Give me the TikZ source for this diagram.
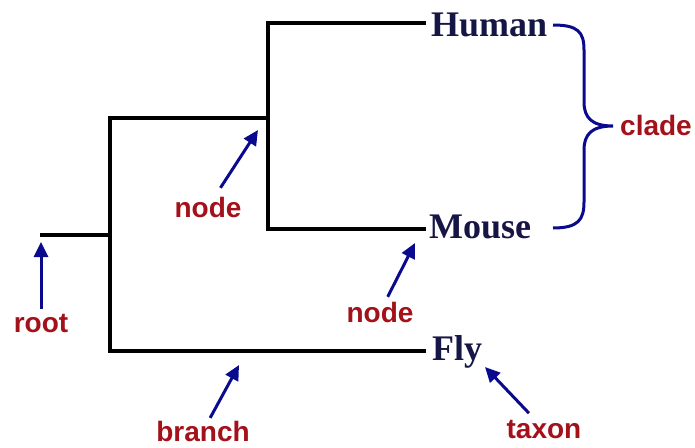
\documentclass[tikz,border=0pt]{standalone}
\usepackage{fontspec}
\setmainfont{Liberation Serif}
\setsansfont{Liberation Sans}
\usetikzlibrary{arrows.meta}

\definecolor{taxonink}{HTML}{161646}
\definecolor{labelred}{HTML}{A3111B}
\definecolor{pointblue}{HTML}{0A0A8E}

\tikzset{
    tree/.style={line width=4pt, black, line join=miter},
    taxon/.style={anchor=base west, inner sep=1pt, text=taxonink,
        font=\fontsize{36}{40}\selectfont\bfseries},
    term/.style={anchor=base, inner sep=2pt, text=labelred,
        font=\fontsize{28}{32}\selectfont\sffamily\bfseries},
    pointer/.style={pointblue, line width=3pt,
        -{Triangle[length=15pt,width=14pt]}, shorten <=3pt},
}

\begin{document}
\begin{tikzpicture}[x=1pt, y=-1pt]
    \useasboundingbox (0,0) rectangle (695,447);

    % tree
    \coordinate (root) at (40,235);
    \coordinate (base) at (110,235);
    \coordinate (mid) at (268,118);
    \coordinate (hum) at (426,23);
    \coordinate (mou) at (426,229);
    \coordinate (fl) at (426,351);

    \draw[tree] (root) -- (base);
    \draw[tree] (mid) -| (base) |- (fl);
    \draw[tree] (hum) -| (mid) |- (mou);

    % taxa
    \node[taxon] (human) at (430,36) {Human};
    \node[taxon] (mouse) at (428,238) {Mouse};
    \node[taxon] (fly) at (431,360) {Fly};

    % clade brace
    \draw[pointblue, line width=3pt]
        (553,25) .. controls (578,25) and (584,32) .. (584,50)
        -- (584,102) .. controls (584,118) and (592,126) .. (613,126)
        coordinate (tip)
        .. controls (592,126) and (584,134) .. (584,150)
        -- (584,202) .. controls (584,220) and (578,228) .. (553,228);
    \node[term, anchor=west, inner sep=1pt] (clade) at (619,125) {clade};

    % terms
    \coordinate (roottip) at (41,242);
    \coordinate (node1tip) at (258,130);
    \coordinate (node2tip) at (415,243);
    \coordinate (branchtip) at (239,365);
    \coordinate (taxontip) at (485,367);

    \node[term] (rootlbl) at (41,332) {root};
    \node[term] (node1lbl) at (208,217) {node};
    \node[term] (node2lbl) at (380,322) {node};
    \node[term, inner ysep=0pt] (branchlbl) at (203,441) {branch};
    \node[term] (taxonlbl) at (544,438) {taxon};

    \draw[pointer] (rootlbl) -- (roottip);
    \draw[pointer, shorten <=8pt] (node1lbl) -- (node1tip);
    \draw[pointer] (node2lbl) -- (node2tip);
    \draw[pointer, shorten <=3pt] (branchlbl) -- (branchtip);
    \draw[pointer, shorten <=6pt] (taxonlbl) -- (taxontip);
\end{tikzpicture}
\end{document}
